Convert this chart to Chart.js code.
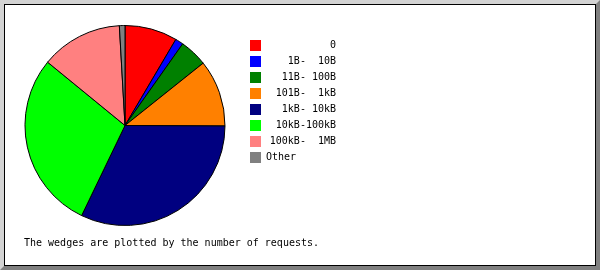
<!DOCTYPE html>
<html>
<head>
<meta charset="utf-8">
<script src="https://cdn.jsdelivr.net/npm/chart.js@4/dist/chart.umd.min.js"></script>
<style>
  html, body { margin: 0; padding: 0; background: #fff; }
  #frame {
    position: absolute; left: 0; top: 0;
    width: 600px; height: 270px; box-sizing: border-box;
    border: 4px solid;
    border-color: #d3d3d3 #808080 #808080 #d3d3d3;
    background: #fff;
  }
  #inner {
    position: absolute; left: 0; top: 0;
    width: 592px; height: 262px; box-sizing: border-box;
    border: 1px solid #000;
  }
  #caption {
    position: absolute; left: 24px; top: 238px;
    font: 10px/10px "DejaVu Sans Mono", monospace;
    color: #000; white-space: pre;
  }
  #pie { position: absolute; left: 0; top: 0; }
</style>
</head>
<body>
<div id="frame"><div id="inner"></div></div>
<canvas id="pie" width="600" height="270"></canvas>
<div id="caption">The wedges are plotted by the number of requests.</div>
<script>
// Response size bins and the share of requests falling into each (%)
const sizeBins = ['0', '1B-  10B', '11B- 100B', '101B-  1kB', '1kB- 10kB', '10kB-100kB', '100kB-  1MB', 'Other'];
const requestShare = [8.5, 1.3, 4.5, 10.8, 32.1, 28.8, 13.2, 0.9];
const sliceColors = ['#ff0000', '#0000ff', '#008000', '#ff8000', '#000080', '#00ff00', '#ff8080', '#808080'];

const monoFont = { family: '"DejaVu Sans Mono", monospace', size: 10 };

new Chart(document.getElementById('pie'), {
  type: 'pie',
  data: {
    labels: sizeBins,
    datasets: [{
      data: requestShare,
      backgroundColor: sliceColors,
      borderColor: '#000',
      borderWidth: 1,
      radius: 100,
      clip: false
    }]
  },
  options: {
    responsive: false,
    animation: false,
    devicePixelRatio: 1,
    events: [],
    layout: { padding: { left: 5, top: 35, right: 264, bottom: 54 } },
    plugins: {
      tooltip: { enabled: false },
      legend: {
        position: 'right',
        align: 'start',
        maxWidth: 91,
        labels: {
          boxWidth: 11,
          boxHeight: 11,
          padding: 5,
          color: '#000',
          font: monoFont,
          generateLabels: (chart) => chart.data.labels.map((text, i) => ({
            text,
            fillStyle: sliceColors[i],
            strokeStyle: sliceColors[i],
            lineWidth: 0,
            fontColor: '#000',
            hidden: false,
            index: i,
            // size ranges line up on the right, the catch-all entry on the left
            textAlign: text === 'Other' ? 'left' : 'right'
          }))
        }
      }
    }
  }
});
</script>
</body>
</html>
